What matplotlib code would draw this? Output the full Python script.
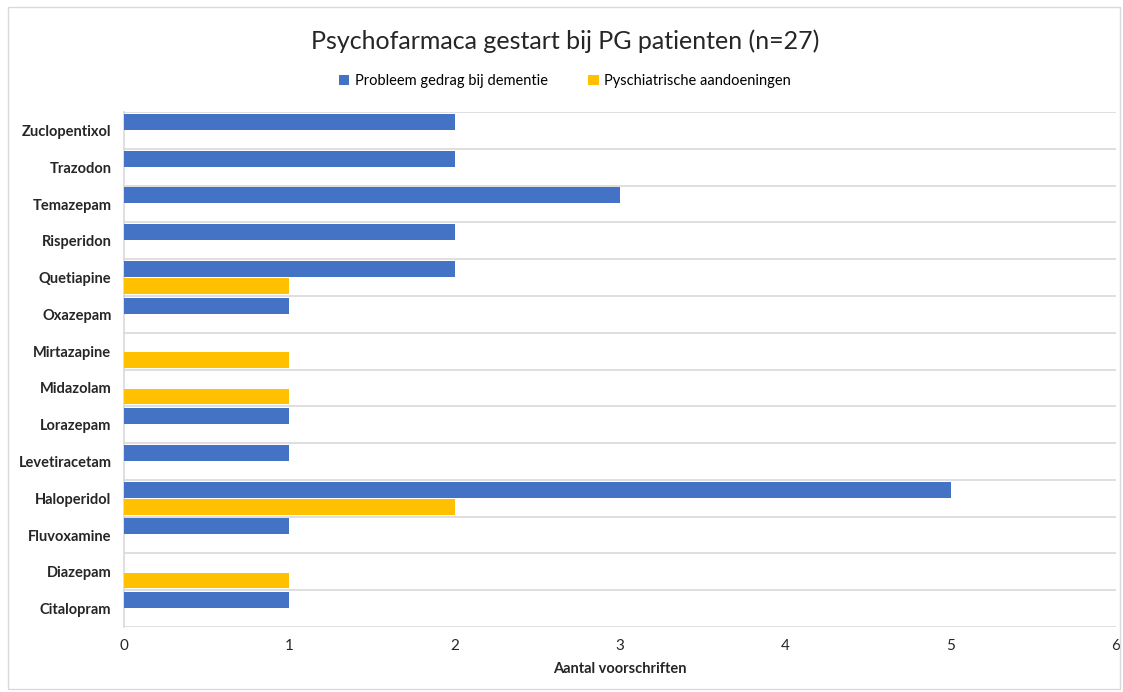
import matplotlib.pyplot as plt
import numpy as np
from matplotlib.patches import Rectangle

medicijnen = ['Citalopram', 'Diazepam', 'Fluvoxamine', 'Haloperidol', 'Levetiracetam',
              'Lorazepam', 'Midazolam', 'Mirtazapine', 'Oxazepam', 'Quetiapine',
              'Risperidon', 'Temazepam', 'Trazodon', 'Zuclopentixol']
probleem_gedrag = [1, 0, 1, 5, 1, 1, 0, 0, 1, 2, 2, 3, 2, 2]
psychiatrisch = [0, 1, 0, 2, 0, 0, 1, 1, 0, 1, 0, 0, 0, 0]
x_ticks = [0, 1, 2, 3, 4, 5, 6]

plt.rcParams.update({'font.family': ['Lato', 'DejaVu Sans']})

fig = plt.figure(figsize=(11.23, 6.92), dpi=100)
ax = fig.add_axes([0.1104, 0.094, 0.8834, 0.744])

Y = np.arange(len(medicijnen))
h = 0.43
ax.barh(Y + 0.235, probleem_gedrag, h, color='#4472c4', label='Probleem gedrag bij dementie', zorder=3)
ax.barh(Y - 0.235, psychiatrisch, h, color='#ffc000', label='Pyschiatrische aandoeningen', zorder=3)

ax.set_xlim(0, 6)
ax.set_ylim(-0.5, len(medicijnen) - 0.5)
ax.set_xticks(x_ticks)
ax.set_yticks(Y)
ax.set_yticklabels(medicijnen, fontweight='bold', fontsize=10.5)
ax.tick_params(axis='both', length=0, colors='#262626')
ax.tick_params(axis='x', labelsize=11, pad=9)
ax.tick_params(axis='y', pad=9)

# horizontal gridlines between categories
ax.set_yticks(np.arange(-0.5, len(medicijnen), 1), minor=True)
ax.grid(axis='y', which='minor', color='#d9d9d9', linewidth=1.2, zorder=0)
ax.tick_params(axis='y', which='minor', length=0)

for s in ['top', 'right', 'bottom']:
    ax.spines[s].set_visible(False)
ax.spines['left'].set_color('#d9d9d9')
ax.spines['left'].set_linewidth(1.2)

ax.set_xlabel('Aantal voorschriften', fontweight='bold', fontsize=10.5, color='#262626', labelpad=6)

fig.text(0.503, 0.94, 'Psychofarmaca gestart bij PG patienten (n=27)', ha='center', va='center',
         fontsize=18, color='#262626')
fig.legend(loc='center', bbox_to_anchor=(0.503, 0.883), ncol=2, frameon=False, fontsize=10.5,
           handlelength=0.7, handleheight=0.7, columnspacing=2.8, handletextpad=0.4)

fig.patches.append(Rectangle((0.007, 0.005), 0.99, 0.985, transform=fig.transFigure,
                             fill=False, edgecolor='#d9d9d9', linewidth=1))

fig.savefig('out.png', dpi=100, facecolor='w')
